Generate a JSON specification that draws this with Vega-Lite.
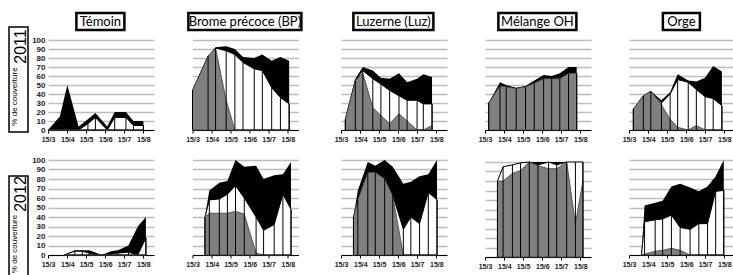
{
  "$schema": "https://vega.github.io/schema/vega-lite/v6.json",
  "padding": {"left": 8, "top": 7, "right": 0, "bottom": 0},
  "config": {
    "view": {"stroke": null},
    "font": "Liberation Sans",
    "axisX": {"domainColor": "#000", "tickColor": "#000", "tickSize": 3, "labelFontSize": 7, "labelFontWeight": "bold", "labelColor": "#222", "labelPadding": 2, "grid": false, "zindex": 1, "labelFlush": false, "labelOverlap": false, "title": null, "format": "%d/%-m"},
    "axisY": {"domain": false, "ticks": false, "gridColor": "#bdbdbd", "gridWidth": 1.6, "labelFontSize": 8, "labelFontWeight": "bold", "labelColor": "#222", "labelPadding": 3, "title": null, "tickCount": 10}
  },
  "datasets": {
    "cover": [
      {"yr":2011,"trt":"Témoin","d":"2011-03-15","g":0,"w":0,"t":0},
      {"yr":2011,"trt":"Témoin","d":"2011-04-03","g":0,"w":0,"t":15},
      {"yr":2011,"trt":"Témoin","d":"2011-04-15","g":0,"w":0,"t":50},
      {"yr":2011,"trt":"Témoin","d":"2011-05-03","g":0,"w":0,"t":4},
      {"yr":2011,"trt":"Témoin","d":"2011-05-18","g":0,"w":7,"t":12},
      {"yr":2011,"trt":"Témoin","d":"2011-05-30","g":0,"w":14,"t":19},
      {"yr":2011,"trt":"Témoin","d":"2011-06-18","g":0,"w":0,"t":4},
      {"yr":2011,"trt":"Témoin","d":"2011-06-30","g":0,"w":14,"t":20},
      {"yr":2011,"trt":"Témoin","d":"2011-07-18","g":0,"w":14,"t":20},
      {"yr":2011,"trt":"Témoin","d":"2011-07-30","g":0,"w":5,"t":10},
      {"yr":2011,"trt":"Témoin","d":"2011-08-15","g":0,"w":5,"t":10},
      {"yr":2011,"trt":"BP","d":"2011-03-15","g":44,"w":44,"t":44},
      {"yr":2011,"trt":"BP","d":"2011-04-09","g":82,"w":82,"t":82},
      {"yr":2011,"trt":"BP","d":"2011-04-21","g":91,"w":91,"t":92},
      {"yr":2011,"trt":"BP","d":"2011-05-08","g":33,"w":88,"t":93},
      {"yr":2011,"trt":"BP","d":"2011-05-22","g":0,"w":84,"t":90},
      {"yr":2011,"trt":"BP","d":"2011-06-04","g":0,"w":75,"t":81},
      {"yr":2011,"trt":"BP","d":"2011-06-22","g":0,"w":68,"t":80},
      {"yr":2011,"trt":"BP","d":"2011-07-05","g":0,"w":66,"t":84},
      {"yr":2011,"trt":"BP","d":"2011-07-20","g":0,"w":47,"t":77},
      {"yr":2011,"trt":"BP","d":"2011-08-03","g":0,"w":36,"t":81},
      {"yr":2011,"trt":"BP","d":"2011-08-17","g":0,"w":29,"t":77},
      {"yr":2011,"trt":"Luz","d":"2011-03-22","g":12,"w":12,"t":12},
      {"yr":2011,"trt":"Luz","d":"2011-04-07","g":55,"w":55,"t":57},
      {"yr":2011,"trt":"Luz","d":"2011-04-19","g":63,"w":66,"t":70},
      {"yr":2011,"trt":"Luz","d":"2011-05-05","g":25,"w":57,"t":66},
      {"yr":2011,"trt":"Luz","d":"2011-05-18","g":16,"w":51,"t":58},
      {"yr":2011,"trt":"Luz","d":"2011-06-01","g":7,"w":44,"t":57},
      {"yr":2011,"trt":"Luz","d":"2011-06-16","g":18,"w":38,"t":63},
      {"yr":2011,"trt":"Luz","d":"2011-06-29","g":10,"w":33,"t":53},
      {"yr":2011,"trt":"Luz","d":"2011-07-15","g":0,"w":33,"t":57},
      {"yr":2011,"trt":"Luz","d":"2011-07-25","g":0,"w":29,"t":62},
      {"yr":2011,"trt":"Luz","d":"2011-08-08","g":5,"w":29,"t":59},
      {"yr":2011,"trt":"OH","d":"2011-03-21","g":30,"w":30,"t":30},
      {"yr":2011,"trt":"OH","d":"2011-04-08","g":49,"w":49,"t":53},
      {"yr":2011,"trt":"OH","d":"2011-04-18","g":48,"w":48,"t":50},
      {"yr":2011,"trt":"OH","d":"2011-05-04","g":46,"w":46,"t":47},
      {"yr":2011,"trt":"OH","d":"2011-05-19","g":48,"w":48,"t":49},
      {"yr":2011,"trt":"OH","d":"2011-06-02","g":52,"w":52,"t":55},
      {"yr":2011,"trt":"OH","d":"2011-06-17","g":57,"w":57,"t":61},
      {"yr":2011,"trt":"OH","d":"2011-06-30","g":57,"w":57,"t":60},
      {"yr":2011,"trt":"OH","d":"2011-07-13","g":57,"w":57,"t":63},
      {"yr":2011,"trt":"OH","d":"2011-07-27","g":63,"w":63,"t":70},
      {"yr":2011,"trt":"OH","d":"2011-08-09","g":63,"w":63,"t":70},
      {"yr":2011,"trt":"Orge","d":"2011-03-22","g":23,"w":23,"t":23},
      {"yr":2011,"trt":"Orge","d":"2011-04-07","g":38,"w":38,"t":38},
      {"yr":2011,"trt":"Orge","d":"2011-04-19","g":43,"w":43,"t":43},
      {"yr":2011,"trt":"Orge","d":"2011-05-06","g":28,"w":30,"t":33},
      {"yr":2011,"trt":"Orge","d":"2011-05-20","g":12,"w":40,"t":42},
      {"yr":2011,"trt":"Orge","d":"2011-06-01","g":3,"w":56,"t":62},
      {"yr":2011,"trt":"Orge","d":"2011-06-18","g":0,"w":53,"t":55},
      {"yr":2011,"trt":"Orge","d":"2011-07-01","g":5,"w":45,"t":54},
      {"yr":2011,"trt":"Orge","d":"2011-07-15","g":0,"w":37,"t":58},
      {"yr":2011,"trt":"Orge","d":"2011-07-28","g":0,"w":35,"t":71},
      {"yr":2011,"trt":"Orge","d":"2011-08-11","g":0,"w":27,"t":65},
      {"yr":2012,"trt":"Témoin","d":"2012-04-10","g":0,"w":0,"t":0},
      {"yr":2012,"trt":"Témoin","d":"2012-04-27","g":0,"w":4,"t":5},
      {"yr":2012,"trt":"Témoin","d":"2012-05-09","g":0,"w":4,"t":5},
      {"yr":2012,"trt":"Témoin","d":"2012-05-20","g":0,"w":2,"t":5},
      {"yr":2012,"trt":"Témoin","d":"2012-06-01","g":0,"w":0,"t":2},
      {"yr":2012,"trt":"Témoin","d":"2012-06-09","g":0,"w":0,"t":0},
      {"yr":2012,"trt":"Témoin","d":"2012-06-24","g":0,"w":1,"t":4},
      {"yr":2012,"trt":"Témoin","d":"2012-07-05","g":0,"w":2,"t":5},
      {"yr":2012,"trt":"Témoin","d":"2012-07-22","g":0,"w":3,"t":10},
      {"yr":2012,"trt":"Témoin","d":"2012-08-06","g":0,"w":0,"t":30},
      {"yr":2012,"trt":"Témoin","d":"2012-08-19","g":0,"w":18,"t":40},
      {"yr":2012,"trt":"BP","d":"2012-04-04","g":40,"w":40,"t":40},
      {"yr":2012,"trt":"BP","d":"2012-04-11","g":44,"w":58,"t":68},
      {"yr":2012,"trt":"BP","d":"2012-04-27","g":44,"w":59,"t":76},
      {"yr":2012,"trt":"BP","d":"2012-05-10","g":44,"w":64,"t":78},
      {"yr":2012,"trt":"BP","d":"2012-05-23","g":46,"w":73,"t":100},
      {"yr":2012,"trt":"BP","d":"2012-06-06","g":43,"w":60,"t":93},
      {"yr":2012,"trt":"BP","d":"2012-06-25","g":2,"w":40,"t":94},
      {"yr":2012,"trt":"BP","d":"2012-07-07","g":0,"w":26,"t":80},
      {"yr":2012,"trt":"BP","d":"2012-07-24","g":0,"w":32,"t":84},
      {"yr":2012,"trt":"BP","d":"2012-08-07","g":0,"w":64,"t":85},
      {"yr":2012,"trt":"BP","d":"2012-08-20","g":0,"w":48,"t":98},
      {"yr":2012,"trt":"Luz","d":"2012-04-04","g":40,"w":40,"t":40},
      {"yr":2012,"trt":"Luz","d":"2012-04-11","g":58,"w":58,"t":68},
      {"yr":2012,"trt":"Luz","d":"2012-04-27","g":87,"w":87,"t":98},
      {"yr":2012,"trt":"Luz","d":"2012-05-09","g":87,"w":87,"t":94},
      {"yr":2012,"trt":"Luz","d":"2012-05-24","g":80,"w":80,"t":100},
      {"yr":2012,"trt":"Luz","d":"2012-06-06","g":62,"w":63,"t":93},
      {"yr":2012,"trt":"Luz","d":"2012-06-23","g":0,"w":27,"t":75},
      {"yr":2012,"trt":"Luz","d":"2012-07-05","g":0,"w":40,"t":77},
      {"yr":2012,"trt":"Luz","d":"2012-07-19","g":0,"w":33,"t":83},
      {"yr":2012,"trt":"Luz","d":"2012-08-02","g":0,"w":66,"t":85},
      {"yr":2012,"trt":"Luz","d":"2012-08-16","g":0,"w":58,"t":100},
      {"yr":2012,"trt":"OH","d":"2012-04-04","g":80,"w":80,"t":80},
      {"yr":2012,"trt":"OH","d":"2012-04-13","g":80,"w":95,"t":95},
      {"yr":2012,"trt":"OH","d":"2012-04-28","g":88,"w":97,"t":97},
      {"yr":2012,"trt":"OH","d":"2012-05-11","g":91,"w":99,"t":99},
      {"yr":2012,"trt":"OH","d":"2012-05-25","g":100,"w":100,"t":100},
      {"yr":2012,"trt":"OH","d":"2012-06-08","g":96,"w":97,"t":100},
      {"yr":2012,"trt":"OH","d":"2012-06-25","g":93,"w":100,"t":100},
      {"yr":2012,"trt":"OH","d":"2012-07-08","g":93,"w":97,"t":100},
      {"yr":2012,"trt":"OH","d":"2012-07-24","g":100,"w":100,"t":100},
      {"yr":2012,"trt":"OH","d":"2012-08-07","g":35,"w":100,"t":100},
      {"yr":2012,"trt":"OH","d":"2012-08-19","g":80,"w":100,"t":100},
      {"yr":2012,"trt":"Orge","d":"2012-04-04","g":0,"w":0,"t":0},
      {"yr":2012,"trt":"Orge","d":"2012-04-09","g":1,"w":35,"t":52},
      {"yr":2012,"trt":"Orge","d":"2012-04-26","g":4,"w":37,"t":55},
      {"yr":2012,"trt":"Orge","d":"2012-05-08","g":5,"w":38,"t":57},
      {"yr":2012,"trt":"Orge","d":"2012-05-22","g":7,"w":42,"t":72},
      {"yr":2012,"trt":"Orge","d":"2012-06-05","g":5,"w":29,"t":75},
      {"yr":2012,"trt":"Orge","d":"2012-06-21","g":0,"w":27,"t":71},
      {"yr":2012,"trt":"Orge","d":"2012-07-05","g":0,"w":33,"t":67},
      {"yr":2012,"trt":"Orge","d":"2012-07-19","g":0,"w":33,"t":72},
      {"yr":2012,"trt":"Orge","d":"2012-08-01","g":0,"w":67,"t":83},
      {"yr":2012,"trt":"Orge","d":"2012-08-14","g":0,"w":68,"t":100}
    ]
  },
  "spacing": 1,
  "hconcat": [
    {
      "spacing": 7,
      "vconcat": [
        {"width": 1, "height": 1, "data": {"values": [{"s": ""}]}, "mark": {"type": "text"}, "encoding": {"text": {"field": "s"}}},
        {"spacing": 42, "vconcat": [
          {"width": 19, "height": 105, "view": {"stroke": "#000", "strokeWidth": 1.5},
           "layer": [
             {"data": {"values": [{"s": "2011"}]}, "mark": {"type": "text", "angle": 270, "fontSize": 16, "align": "center", "baseline": "middle", "dx": 33, "dy": 2}, "encoding": {"text": {"field": "s"}}},
             {"data": {"values": [{"s": "% de couverture"}]}, "mark": {"type": "text", "angle": 270, "fontSize": 8, "align": "center", "baseline": "middle", "dx": -17, "dy": -4}, "encoding": {"text": {"field": "s"}}}
           ]},
          {"width": 19, "height": 102, "view": {"stroke": "#000", "strokeWidth": 1.5},
           "layer": [
             {"data": {"values": [{"s": "2012"}]}, "mark": {"type": "text", "angle": 270, "fontSize": 16, "align": "center", "baseline": "middle", "dx": 33, "dy": 2}, "encoding": {"text": {"field": "s"}}},
             {"data": {"values": [{"s": "% de couverture"}]}, "mark": {"type": "text", "angle": 270, "fontSize": 8, "align": "center", "baseline": "middle", "dx": -17, "dy": -4}, "encoding": {"text": {"field": "s"}}}
           ]}
        ]}
      ]
    },
    {
      "spacing": 31,
      "hconcat": [
        {"center": true, "spacing": 4, "vconcat": [
          {"width": 48, "height": 17, "view": {"stroke": "#000", "strokeWidth": 2.5}, "data": {"values": [{"s": "Témoin"}]}, "mark": {"type": "text", "font": "Lato", "fontSize": 13, "align": "center", "baseline": "middle"}, "encoding": {"text": {"field": "s"}}},
          {"spacing": 14, "vconcat": [
            {"width": 106, "height": 90, "data": {"name": "cover"}, "transform": [{"filter": "datum.yr === 2011 && datum.trt === 'Témoin'"}],
             "encoding": {"x": {"field": "d", "type": "temporal", "scale": {"type": "utc", "domain": [{"year": 2011, "month": 3, "date": 15, "utc": true}, {"year": 2011, "month": 9, "date": 1, "utc": true}]}, "axis": {"values": [{"year": 2011, "month": 3, "date": 15, "utc": true}, {"year": 2011, "month": 4, "date": 15, "utc": true}, {"year": 2011, "month": 5, "date": 15, "utc": true}, {"year": 2011, "month": 6, "date": 15, "utc": true}, {"year": 2011, "month": 7, "date": 15, "utc": true}, {"year": 2011, "month": 8, "date": 15, "utc": true}]}}},
             "layer": [
               {"mark": {"type": "area", "fill": "#000", "strokeWidth": 0}, "encoding": {"y": {"field": "t", "type": "quantitative", "scale": {"domain": [0, 100]}, "axis": {"labels": true}}}},
               {"mark": {"type": "area", "fill": "#fff", "stroke": "#000", "strokeWidth": 1}, "encoding": {"y": {"field": "w", "type": "quantitative", "axis": {"labels": true}}}},
               {"mark": {"type": "area", "fill": "#808080", "stroke": "#404040", "strokeWidth": 0.8}, "encoding": {"y": {"field": "g", "type": "quantitative", "axis": {"labels": true}}}},
               {"mark": {"type": "rule", "color": "#000", "strokeWidth": 1}, "encoding": {"y": {"field": "w", "type": "quantitative", "axis": {"labels": true}}, "y2": {"datum": 0}}}
             ]},
            {"width": 106, "height": 95, "data": {"name": "cover"}, "transform": [{"filter": "datum.yr === 2012 && datum.trt === 'Témoin'"}],
             "encoding": {"x": {"field": "d", "type": "temporal", "scale": {"type": "utc", "domain": [{"year": 2012, "month": 3, "date": 15, "utc": true}, {"year": 2012, "month": 9, "date": 1, "utc": true}]}, "axis": {"values": [{"year": 2012, "month": 3, "date": 15, "utc": true}, {"year": 2012, "month": 4, "date": 15, "utc": true}, {"year": 2012, "month": 5, "date": 15, "utc": true}, {"year": 2012, "month": 6, "date": 15, "utc": true}, {"year": 2012, "month": 7, "date": 15, "utc": true}, {"year": 2012, "month": 8, "date": 15, "utc": true}]}}},
             "layer": [
               {"mark": {"type": "area", "fill": "#000", "strokeWidth": 0}, "encoding": {"y": {"field": "t", "type": "quantitative", "scale": {"domain": [0, 100]}, "axis": {"labels": true}}}},
               {"mark": {"type": "area", "fill": "#fff", "stroke": "#000", "strokeWidth": 1}, "encoding": {"y": {"field": "w", "type": "quantitative", "axis": {"labels": true}}}},
               {"mark": {"type": "area", "fill": "#808080", "stroke": "#404040", "strokeWidth": 0.8}, "encoding": {"y": {"field": "g", "type": "quantitative", "axis": {"labels": true}}}},
               {"mark": {"type": "rule", "color": "#000", "strokeWidth": 1}, "encoding": {"y": {"field": "w", "type": "quantitative", "axis": {"labels": true}}, "y2": {"datum": 0}}}
             ]}
          ]}
        ]},
        {"spacing": 31, "hconcat": [
        {"center": true, "spacing": 8, "vconcat": [
          {"width": 113, "height": 17, "view": {"stroke": "#000", "strokeWidth": 2.5}, "data": {"values": [{"s": "Brome précoce (BP)"}]}, "mark": {"type": "text", "font": "Lato", "fontSize": 13, "align": "center", "baseline": "middle"}, "encoding": {"text": {"field": "s"}}},
          {"spacing": 18, "vconcat": [
            {"width": 106, "height": 90, "data": {"name": "cover"}, "transform": [{"filter": "datum.yr === 2011 && datum.trt === 'BP'"}],
             "encoding": {"x": {"field": "d", "type": "temporal", "scale": {"type": "utc", "domain": [{"year": 2011, "month": 3, "date": 15, "utc": true}, {"year": 2011, "month": 9, "date": 1, "utc": true}]}, "axis": {"values": [{"year": 2011, "month": 3, "date": 15, "utc": true}, {"year": 2011, "month": 4, "date": 15, "utc": true}, {"year": 2011, "month": 5, "date": 15, "utc": true}, {"year": 2011, "month": 6, "date": 15, "utc": true}, {"year": 2011, "month": 7, "date": 15, "utc": true}, {"year": 2011, "month": 8, "date": 15, "utc": true}]}}},
             "layer": [
               {"mark": {"type": "area", "fill": "#000", "strokeWidth": 0}, "encoding": {"y": {"field": "t", "type": "quantitative", "scale": {"domain": [0, 100]}, "axis": {"labels": false}}}},
               {"mark": {"type": "area", "fill": "#fff", "stroke": "#000", "strokeWidth": 1}, "encoding": {"y": {"field": "w", "type": "quantitative", "axis": {"labels": false}}}},
               {"mark": {"type": "area", "fill": "#808080", "stroke": "#404040", "strokeWidth": 0.8}, "encoding": {"y": {"field": "g", "type": "quantitative", "axis": {"labels": false}}}},
               {"mark": {"type": "rule", "color": "#000", "strokeWidth": 1}, "encoding": {"y": {"field": "w", "type": "quantitative", "axis": {"labels": false}}, "y2": {"datum": 0}}}
             ]},
            {"width": 106, "height": 95, "data": {"name": "cover"}, "transform": [{"filter": "datum.yr === 2012 && datum.trt === 'BP'"}],
             "encoding": {"x": {"field": "d", "type": "temporal", "scale": {"type": "utc", "domain": [{"year": 2012, "month": 3, "date": 15, "utc": true}, {"year": 2012, "month": 9, "date": 1, "utc": true}]}, "axis": {"values": [{"year": 2012, "month": 3, "date": 15, "utc": true}, {"year": 2012, "month": 4, "date": 15, "utc": true}, {"year": 2012, "month": 5, "date": 15, "utc": true}, {"year": 2012, "month": 6, "date": 15, "utc": true}, {"year": 2012, "month": 7, "date": 15, "utc": true}, {"year": 2012, "month": 8, "date": 15, "utc": true}]}}},
             "layer": [
               {"mark": {"type": "area", "fill": "#000", "strokeWidth": 0}, "encoding": {"y": {"field": "t", "type": "quantitative", "scale": {"domain": [0, 100]}, "axis": {"labels": false}}}},
               {"mark": {"type": "area", "fill": "#fff", "stroke": "#000", "strokeWidth": 1}, "encoding": {"y": {"field": "w", "type": "quantitative", "axis": {"labels": false}}}},
               {"mark": {"type": "area", "fill": "#808080", "stroke": "#404040", "strokeWidth": 0.8}, "encoding": {"y": {"field": "g", "type": "quantitative", "axis": {"labels": false}}}},
               {"mark": {"type": "rule", "color": "#000", "strokeWidth": 1}, "encoding": {"y": {"field": "w", "type": "quantitative", "axis": {"labels": false}}, "y2": {"datum": 0}}}
             ]}
          ]}
        ]},
        {"center": true, "spacing": 8, "vconcat": [
          {"width": 80, "height": 17, "view": {"stroke": "#000", "strokeWidth": 2.5}, "data": {"values": [{"s": "Luzerne (Luz)"}]}, "mark": {"type": "text", "font": "Lato", "fontSize": 13, "align": "center", "baseline": "middle"}, "encoding": {"text": {"field": "s"}}},
          {"spacing": 18, "vconcat": [
            {"width": 106, "height": 90, "data": {"name": "cover"}, "transform": [{"filter": "datum.yr === 2011 && datum.trt === 'Luz'"}],
             "encoding": {"x": {"field": "d", "type": "temporal", "scale": {"type": "utc", "domain": [{"year": 2011, "month": 3, "date": 15, "utc": true}, {"year": 2011, "month": 9, "date": 1, "utc": true}]}, "axis": {"values": [{"year": 2011, "month": 3, "date": 15, "utc": true}, {"year": 2011, "month": 4, "date": 15, "utc": true}, {"year": 2011, "month": 5, "date": 15, "utc": true}, {"year": 2011, "month": 6, "date": 15, "utc": true}, {"year": 2011, "month": 7, "date": 15, "utc": true}, {"year": 2011, "month": 8, "date": 15, "utc": true}]}}},
             "layer": [
               {"mark": {"type": "area", "fill": "#000", "strokeWidth": 0}, "encoding": {"y": {"field": "t", "type": "quantitative", "scale": {"domain": [0, 100]}, "axis": {"labels": false}}}},
               {"mark": {"type": "area", "fill": "#fff", "stroke": "#000", "strokeWidth": 1}, "encoding": {"y": {"field": "w", "type": "quantitative", "axis": {"labels": false}}}},
               {"mark": {"type": "area", "fill": "#808080", "stroke": "#404040", "strokeWidth": 0.8}, "encoding": {"y": {"field": "g", "type": "quantitative", "axis": {"labels": false}}}},
               {"mark": {"type": "rule", "color": "#000", "strokeWidth": 1}, "encoding": {"y": {"field": "w", "type": "quantitative", "axis": {"labels": false}}, "y2": {"datum": 0}}}
             ]},
            {"width": 106, "height": 95, "data": {"name": "cover"}, "transform": [{"filter": "datum.yr === 2012 && datum.trt === 'Luz'"}],
             "encoding": {"x": {"field": "d", "type": "temporal", "scale": {"type": "utc", "domain": [{"year": 2012, "month": 3, "date": 15, "utc": true}, {"year": 2012, "month": 9, "date": 1, "utc": true}]}, "axis": {"values": [{"year": 2012, "month": 3, "date": 15, "utc": true}, {"year": 2012, "month": 4, "date": 15, "utc": true}, {"year": 2012, "month": 5, "date": 15, "utc": true}, {"year": 2012, "month": 6, "date": 15, "utc": true}, {"year": 2012, "month": 7, "date": 15, "utc": true}, {"year": 2012, "month": 8, "date": 15, "utc": true}]}}},
             "layer": [
               {"mark": {"type": "area", "fill": "#000", "strokeWidth": 0}, "encoding": {"y": {"field": "t", "type": "quantitative", "scale": {"domain": [0, 100]}, "axis": {"labels": false}}}},
               {"mark": {"type": "area", "fill": "#fff", "stroke": "#000", "strokeWidth": 1}, "encoding": {"y": {"field": "w", "type": "quantitative", "axis": {"labels": false}}}},
               {"mark": {"type": "area", "fill": "#808080", "stroke": "#404040", "strokeWidth": 0.8}, "encoding": {"y": {"field": "g", "type": "quantitative", "axis": {"labels": false}}}},
               {"mark": {"type": "rule", "color": "#000", "strokeWidth": 1}, "encoding": {"y": {"field": "w", "type": "quantitative", "axis": {"labels": false}}, "y2": {"datum": 0}}}
             ]}
          ]}
        ]},
        {"center": true, "spacing": 8, "vconcat": [
          {"width": 78, "height": 17, "view": {"stroke": "#000", "strokeWidth": 2.5}, "data": {"values": [{"s": "Mélange OH"}]}, "mark": {"type": "text", "font": "Lato", "fontSize": 13, "align": "center", "baseline": "middle"}, "encoding": {"text": {"field": "s"}}},
          {"spacing": 18, "vconcat": [
            {"width": 106, "height": 90, "data": {"name": "cover"}, "transform": [{"filter": "datum.yr === 2011 && datum.trt === 'OH'"}],
             "encoding": {"x": {"field": "d", "type": "temporal", "scale": {"type": "utc", "domain": [{"year": 2011, "month": 3, "date": 15, "utc": true}, {"year": 2011, "month": 9, "date": 1, "utc": true}]}, "axis": {"values": [{"year": 2011, "month": 3, "date": 15, "utc": true}, {"year": 2011, "month": 4, "date": 15, "utc": true}, {"year": 2011, "month": 5, "date": 15, "utc": true}, {"year": 2011, "month": 6, "date": 15, "utc": true}, {"year": 2011, "month": 7, "date": 15, "utc": true}, {"year": 2011, "month": 8, "date": 15, "utc": true}]}}},
             "layer": [
               {"mark": {"type": "area", "fill": "#000", "strokeWidth": 0}, "encoding": {"y": {"field": "t", "type": "quantitative", "scale": {"domain": [0, 100]}, "axis": {"labels": false}}}},
               {"mark": {"type": "area", "fill": "#fff", "stroke": "#000", "strokeWidth": 1}, "encoding": {"y": {"field": "w", "type": "quantitative", "axis": {"labels": false}}}},
               {"mark": {"type": "area", "fill": "#808080", "stroke": "#404040", "strokeWidth": 0.8}, "encoding": {"y": {"field": "g", "type": "quantitative", "axis": {"labels": false}}}},
               {"mark": {"type": "rule", "color": "#000", "strokeWidth": 1}, "encoding": {"y": {"field": "w", "type": "quantitative", "axis": {"labels": false}}, "y2": {"datum": 0}}}
             ]},
            {"width": 106, "height": 95, "data": {"name": "cover"}, "transform": [{"filter": "datum.yr === 2012 && datum.trt === 'OH'"}],
             "encoding": {"x": {"field": "d", "type": "temporal", "scale": {"type": "utc", "domain": [{"year": 2012, "month": 3, "date": 15, "utc": true}, {"year": 2012, "month": 9, "date": 1, "utc": true}]}, "axis": {"values": [{"year": 2012, "month": 3, "date": 15, "utc": true}, {"year": 2012, "month": 4, "date": 15, "utc": true}, {"year": 2012, "month": 5, "date": 15, "utc": true}, {"year": 2012, "month": 6, "date": 15, "utc": true}, {"year": 2012, "month": 7, "date": 15, "utc": true}, {"year": 2012, "month": 8, "date": 15, "utc": true}]}}},
             "layer": [
               {"mark": {"type": "area", "fill": "#000", "strokeWidth": 0}, "encoding": {"y": {"field": "t", "type": "quantitative", "scale": {"domain": [0, 100]}, "axis": {"labels": false}}}},
               {"mark": {"type": "area", "fill": "#fff", "stroke": "#000", "strokeWidth": 1}, "encoding": {"y": {"field": "w", "type": "quantitative", "axis": {"labels": false}}}},
               {"mark": {"type": "area", "fill": "#808080", "stroke": "#404040", "strokeWidth": 0.8}, "encoding": {"y": {"field": "g", "type": "quantitative", "axis": {"labels": false}}}},
               {"mark": {"type": "rule", "color": "#000", "strokeWidth": 1}, "encoding": {"y": {"field": "w", "type": "quantitative", "axis": {"labels": false}}, "y2": {"datum": 0}}}
             ]}
          ]}
        ]},
        {"center": true, "spacing": 8, "vconcat": [
          {"width": 37, "height": 17, "view": {"stroke": "#000", "strokeWidth": 2.5}, "data": {"values": [{"s": "Orge"}]}, "mark": {"type": "text", "font": "Lato", "fontSize": 13, "align": "center", "baseline": "middle"}, "encoding": {"text": {"field": "s"}}},
          {"spacing": 18, "vconcat": [
            {"width": 106, "height": 90, "data": {"name": "cover"}, "transform": [{"filter": "datum.yr === 2011 && datum.trt === 'Orge'"}],
             "encoding": {"x": {"field": "d", "type": "temporal", "scale": {"type": "utc", "domain": [{"year": 2011, "month": 3, "date": 15, "utc": true}, {"year": 2011, "month": 9, "date": 1, "utc": true}]}, "axis": {"values": [{"year": 2011, "month": 3, "date": 15, "utc": true}, {"year": 2011, "month": 4, "date": 15, "utc": true}, {"year": 2011, "month": 5, "date": 15, "utc": true}, {"year": 2011, "month": 6, "date": 15, "utc": true}, {"year": 2011, "month": 7, "date": 15, "utc": true}, {"year": 2011, "month": 8, "date": 15, "utc": true}]}}},
             "layer": [
               {"mark": {"type": "area", "fill": "#000", "strokeWidth": 0}, "encoding": {"y": {"field": "t", "type": "quantitative", "scale": {"domain": [0, 100]}, "axis": {"labels": false}}}},
               {"mark": {"type": "area", "fill": "#fff", "stroke": "#000", "strokeWidth": 1}, "encoding": {"y": {"field": "w", "type": "quantitative", "axis": {"labels": false}}}},
               {"mark": {"type": "area", "fill": "#808080", "stroke": "#404040", "strokeWidth": 0.8}, "encoding": {"y": {"field": "g", "type": "quantitative", "axis": {"labels": false}}}},
               {"mark": {"type": "rule", "color": "#000", "strokeWidth": 1}, "encoding": {"y": {"field": "w", "type": "quantitative", "axis": {"labels": false}}, "y2": {"datum": 0}}}
             ]},
            {"width": 106, "height": 95, "data": {"name": "cover"}, "transform": [{"filter": "datum.yr === 2012 && datum.trt === 'Orge'"}],
             "encoding": {"x": {"field": "d", "type": "temporal", "scale": {"type": "utc", "domain": [{"year": 2012, "month": 3, "date": 15, "utc": true}, {"year": 2012, "month": 9, "date": 1, "utc": true}]}, "axis": {"values": [{"year": 2012, "month": 3, "date": 15, "utc": true}, {"year": 2012, "month": 4, "date": 15, "utc": true}, {"year": 2012, "month": 5, "date": 15, "utc": true}, {"year": 2012, "month": 6, "date": 15, "utc": true}, {"year": 2012, "month": 7, "date": 15, "utc": true}, {"year": 2012, "month": 8, "date": 15, "utc": true}]}}},
             "layer": [
               {"mark": {"type": "area", "fill": "#000", "strokeWidth": 0}, "encoding": {"y": {"field": "t", "type": "quantitative", "scale": {"domain": [0, 100]}, "axis": {"labels": false}}}},
               {"mark": {"type": "area", "fill": "#fff", "stroke": "#000", "strokeWidth": 1}, "encoding": {"y": {"field": "w", "type": "quantitative", "axis": {"labels": false}}}},
               {"mark": {"type": "area", "fill": "#808080", "stroke": "#404040", "strokeWidth": 0.8}, "encoding": {"y": {"field": "g", "type": "quantitative", "axis": {"labels": false}}}},
               {"mark": {"type": "rule", "color": "#000", "strokeWidth": 1}, "encoding": {"y": {"field": "w", "type": "quantitative", "axis": {"labels": false}}, "y2": {"datum": 0}}}
             ]}
          ]}
        ]}
        ]}
      ]
    }
  ]
}
